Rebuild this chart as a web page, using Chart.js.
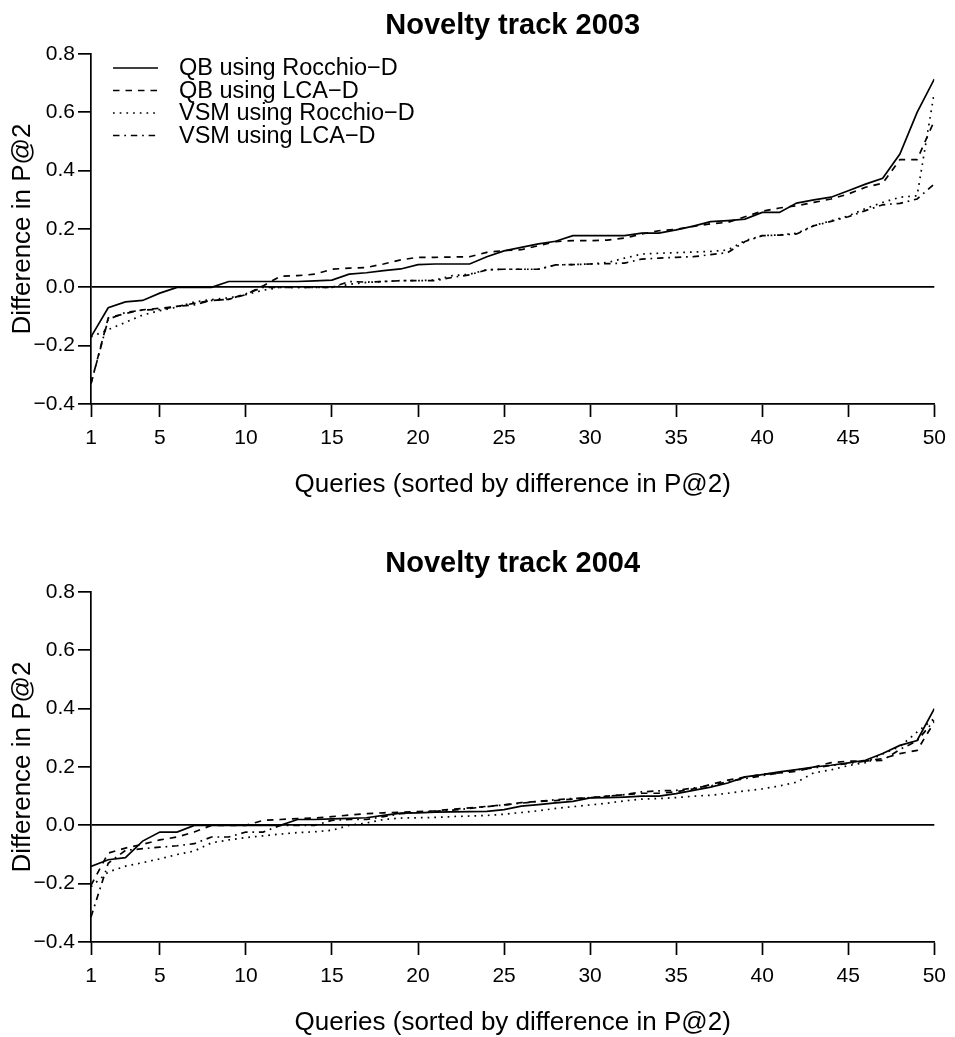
<!DOCTYPE html>
<html>
<head>
<meta charset="utf-8">
<title>Novelty track 2003 / 2004</title>
<script src="https://cdn.jsdelivr.net/npm/chart.js@4.4.1/dist/chart.umd.min.js"></script>
<style>
  html, body { margin: 0; padding: 0; background: #fff; overflow: hidden; }
  #wrap { position: relative; width: 955px; height: 1037px; overflow: hidden; }
  canvas { position: absolute; left: 0; }
  #c2003 { top: 0; }
  #c2004 { top: 538px; }
</style>
</head>
<body>
<div id="wrap">
  <canvas id="c2003" width="955" height="538"></canvas>
  <canvas id="c2004" width="955" height="538"></canvas>
</div>
<script>
// Query rank (queries sorted by difference in P@2)
const queries = [1, 2, 3, 4, 5, 6, 7, 8, 9, 10, 11, 12, 13, 14, 15, 16, 17, 18, 19, 20,
                 21, 22, 23, 24, 25, 26, 27, 28, 29, 30, 31, 32, 33, 34, 35, 36, 37, 38, 39, 40,
                 41, 42, 43, 44, 45, 46, 47, 48, 49, 50];

// Tick labels
const xTicks = [1, 5, 10, 15, 20, 25, 30, 35, 40, 45, 50];
const yTicks = [-0.4, -0.2, 0.0, 0.2, 0.4, 0.6, 0.8];

// Series names
const seriesNames = ['QB using Rocchio\u2212D', 'QB using LCA\u2212D', 'VSM using Rocchio\u2212D', 'VSM using LCA\u2212D'];

// Novelty track 2003
const qbRocchio2003 = [-0.17, -0.07, -0.05, -0.045, -0.02, 0, 0, 0, 0.02, 0.02,
  0.02, 0.02, 0.02, 0.022, 0.025, 0.045, 0.05, 0.057, 0.063, 0.078,
  0.08, 0.08, 0.08, 0.105, 0.125, 0.137, 0.149, 0.158, 0.177, 0.177,
  0.177, 0.177, 0.186, 0.186, 0.197, 0.21, 0.225, 0.229, 0.234, 0.257,
  0.257, 0.289, 0.3, 0.309, 0.331, 0.354, 0.374, 0.457, 0.6, 0.714];
const qbLca2003 = [-0.33, -0.105, -0.09, -0.077, -0.072, -0.065, -0.055, -0.045, -0.041, -0.025,
  0.005, 0.038, 0.04, 0.045, 0.062, 0.066, 0.068, 0.08, 0.094, 0.103,
  0.103, 0.104, 0.105, 0.12, 0.126, 0.129, 0.143, 0.157, 0.16, 0.16,
  0.162, 0.169, 0.183, 0.194, 0.199, 0.209, 0.218, 0.223, 0.242, 0.261,
  0.272, 0.28, 0.291, 0.303, 0.32, 0.343, 0.357, 0.438, 0.438, 0.571];
const vsmRocchio2003 = [-0.17, -0.145, -0.12, -0.095, -0.08, -0.068, -0.05, -0.042, -0.036, -0.025,
  -0.01, 0, 0, 0, 0, 0.01, 0.017, 0.02, 0.023, 0.023,
  0.025, 0.04, 0.045, 0.06, 0.062, 0.062, 0.062, 0.077, 0.078, 0.08,
  0.085, 0.1, 0.114, 0.117, 0.119, 0.121, 0.123, 0.128, 0.16, 0.177,
  0.18, 0.185, 0.212, 0.228, 0.245, 0.27, 0.291, 0.309, 0.314, 0.669];
const vsmLca2003 = [-0.33, -0.11, -0.086, -0.078, -0.076, -0.065, -0.06, -0.045, -0.041, -0.022,
  0, 0, 0, 0, 0, 0.02, 0.018, 0.02, 0.023, 0.023,
  0.023, 0.034, 0.043, 0.06, 0.062, 0.062, 0.062, 0.077, 0.078, 0.08,
  0.081, 0.083, 0.097, 0.1, 0.103, 0.105, 0.112, 0.119, 0.157, 0.177,
  0.179, 0.183, 0.211, 0.226, 0.242, 0.263, 0.283, 0.288, 0.303, 0.354];

// Novelty track 2004
const qbRocchio2004 = [-0.141, -0.118, -0.111, -0.054, -0.023, -0.023, 0, 0, 0, 0,
  0, 0, 0.02, 0.02, 0.022, 0.024, 0.026, 0.034, 0.042, 0.043,
  0.045, 0.046, 0.047, 0.048, 0.054, 0.066, 0.071, 0.077, 0.082, 0.094,
  0.095, 0.097, 0.1, 0.1, 0.109, 0.12, 0.131, 0.145, 0.166, 0.174,
  0.183, 0.191, 0.2, 0.206, 0.214, 0.223, 0.246, 0.274, 0.291, 0.4];
const qbLca2004 = [-0.206, -0.095, -0.078, -0.065, -0.05, -0.04, -0.023, 0, 0, 0,
  0.017, 0.02, 0.023, 0.025, 0.03, 0.035, 0.04, 0.043, 0.045, 0.047,
  0.05, 0.055, 0.06, 0.065, 0.07, 0.078, 0.082, 0.085, 0.09, 0.095,
  0.1, 0.105, 0.11, 0.11, 0.115, 0.125, 0.14, 0.155, 0.165, 0.175,
  0.18, 0.185, 0.2, 0.215, 0.22, 0.22, 0.229, 0.246, 0.257, 0.354];
const vsmRocchio2004 = [-0.21, -0.16, -0.14, -0.128, -0.115, -0.1, -0.088, -0.06, -0.05, -0.042,
  -0.036, -0.03, -0.025, -0.022, -0.017, 0, 0.008, 0.02, 0.025, 0.026,
  0.027, 0.03, 0.032, 0.034, 0.038, 0.044, 0.05, 0.058, 0.064, 0.07,
  0.076, 0.084, 0.09, 0.092, 0.095, 0.1, 0.103, 0.11, 0.118, 0.125,
  0.135, 0.148, 0.18, 0.19, 0.205, 0.215, 0.245, 0.27, 0.32, 0.366];
const vsmLca2004 = [-0.314, -0.13, -0.086, -0.08, -0.075, -0.07, -0.063, -0.04, -0.04, -0.023,
  -0.023, 0, 0, 0, 0.017, 0.02, 0.02, 0.03, 0.04, 0.045,
  0.048, 0.052, 0.058, 0.064, 0.07, 0.076, 0.082, 0.088, 0.092, 0.095,
  0.1, 0.105, 0.115, 0.118, 0.12, 0.128, 0.135, 0.15, 0.16, 0.17,
  0.18, 0.19, 0.197, 0.205, 0.212, 0.22, 0.223, 0.26, 0.29, 0.36];

// Line styles: solid, dashed, dotted, dot-dash
const dashStyles = [[], [6.5, 6], [1.7, 5], [6.5, 4.8, 1.7, 4.8]];
const LINE_W = 1.7;

const FONT = "'Liberation Sans', Arial, Helvetica, sans-serif";
Chart.defaults.font.family = FONT;
Chart.defaults.color = '#000';

// In-plot key: line sample followed by the series name, no frame
const seriesKey = {
  id: 'seriesKey',
  afterDatasetsDraw(chart, args, opts) {
    if (!opts.show) return;
    const { ctx, chartArea } = chart;
    ctx.save();
    ctx.font = opts.fontSize + 'px ' + FONT;
    ctx.textBaseline = 'middle';
    ctx.textAlign = 'left';
    ctx.fillStyle = '#000';
    chart.data.datasets.forEach((ds, i) => {
      const y = chartArea.top + opts.firstRow + i * opts.rowGap;
      const x0 = chartArea.left + opts.lineStart;
      ctx.beginPath();
      ctx.setLineDash(ds.borderDash || []);
      ctx.lineWidth = ds.borderWidth;
      ctx.strokeStyle = ds.borderColor;
      ctx.moveTo(x0, y);
      ctx.lineTo(x0 + opts.lineLength, y);
      ctx.stroke();
      ctx.setLineDash([]);
      ctx.fillText(ds.label, x0 + opts.lineLength + opts.textGap, y + 1);
    });
    ctx.restore();
  }
};

function fmtTick(v) {
  const s = Math.abs(v).toFixed(1);
  return v < -1e-9 ? '\u2212' + s : s;
}

function makeChart(id, title, series, showKey) {
  const datasets = series.map((vals, i) => ({
    label: seriesNames[i],
    data: queries.map((q, k) => ({ x: q, y: vals[k] })),
    borderColor: '#000',
    borderWidth: LINE_W,
    borderDash: dashStyles[i],
    pointRadius: 0,
    tension: 0,
    fill: false
  }));

  return new Chart(document.getElementById(id), {
    type: 'line',
    data: { datasets },
    plugins: [seriesKey],
    options: {
      responsive: false,
      animation: false,
      devicePixelRatio: 1,
      layout: { padding: { left: 0, right: 15, top: 0, bottom: 0 } },
      plugins: {
        legend: { display: false },
        tooltip: { enabled: false },
        title: {
          display: true,
          text: title,
          fullSize: false,
          color: '#000',
          font: { family: FONT, size: 29, weight: 'bold' },
          padding: { top: 8.6, bottom: 10.6 }
        },
        seriesKey: { show: showKey, fontSize: 23.5, firstRow: 14, rowGap: 22.5, lineStart: 22, lineLength: 45, textGap: 21 }
      },
      scales: {
        x: {
          type: 'linear',
          min: 1,
          max: 50,
          afterBuildTicks: s => { s.ticks = xTicks.map(v => ({ value: v })); },
          afterFit: s => { s.height = 134; },
          grid: { drawOnChartArea: false, drawTicks: true, tickLength: 13, tickWidth: LINE_W, tickColor: '#000' },
          border: { display: true, color: '#000', width: LINE_W },
          ticks: { color: '#000', font: { family: FONT, size: 21 }, padding: 9, maxRotation: 0, autoSkip: false },
          title: {
            display: true,
            text: 'Queries (sorted by difference in P@2)',
            color: '#000',
            font: { family: FONT, size: 26 },
            padding: { top: 0, bottom: 37.4 }
          }
        },
        y: {
          type: 'linear',
          min: -0.4,
          max: 0.8,
          afterBuildTicks: s => { s.ticks = yTicks.map(v => ({ value: v })); },
          afterFit: s => { s.width = 91; },
          grid: {
            drawOnChartArea: true,
            color: c => (c.tick && Math.abs(c.tick.value) < 1e-9) ? '#000' : 'rgba(0,0,0,0)',
            lineWidth: LINE_W,
            drawTicks: true,
            tickLength: 13,
            tickWidth: LINE_W,
            tickColor: '#000'
          },
          border: { display: true, color: '#000', width: LINE_W },
          ticks: { color: '#000', font: { family: FONT, size: 21 }, padding: 3, callback: v => fmtTick(v) },
          title: {
            display: true,
            text: 'Difference in P@2',
            color: '#000',
            font: { family: FONT, size: 26 },
            padding: { top: 7.4, bottom: 0 }
          }
        }
      }
    }
  });
}

makeChart('c2003', 'Novelty track 2003', [qbRocchio2003, qbLca2003, vsmRocchio2003, vsmLca2003], true);
makeChart('c2004', 'Novelty track 2004', [qbRocchio2004, qbLca2004, vsmRocchio2004, vsmLca2004], false);
</script>
</body>
</html>
